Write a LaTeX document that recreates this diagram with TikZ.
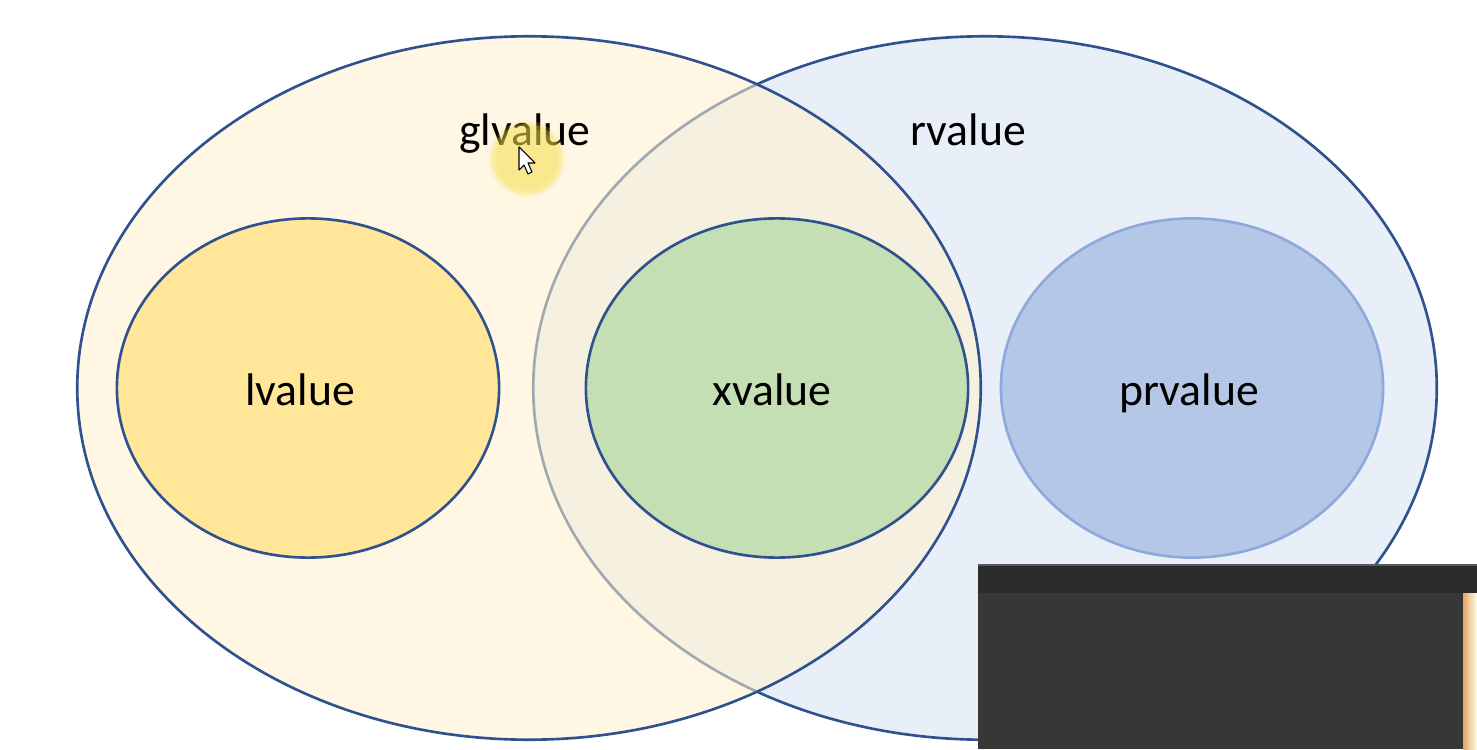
\documentclass[tikz,border=0pt]{standalone}
\usepackage{fontspec}
\setmainfont{Carlito}
\usetikzlibrary{shapes.geometric}
\definecolor{outl}{HTML}{2F528F}
\definecolor{rvfill}{HTML}{E9EFF9}
\definecolor{glfill}{HTML}{FFF2CC}
\definecolor{lvfill}{HTML}{FFE699}
\definecolor{xvfill}{HTML}{C5DFB4}
\definecolor{prfill}{HTML}{B4C7E7}
\definecolor{prline}{HTML}{8EA9DB}
\definecolor{darkbar}{HTML}{2B2B2B}
\definecolor{darkbody}{HTML}{373737}
\definecolor{hilite}{HTML}{F4E04A}
\tikzset{
  ell/.style={ellipse, draw=outl, line width=0.75pt, inner sep=0pt},
  bigell/.style={ell, minimum width=9.03cm, minimum height=7.03cm},
  smallell/.style={ell, minimum width=3.82cm, minimum height=3.39cm},
  lbl/.style={font=\fontsize{13pt}{15pt}\selectfont, text=black, anchor=base, inner sep=0pt}
}
\begin{document}
\begin{tikzpicture}[x=0.01cm, y=-0.01cm]
\useasboundingbox (0,0) rectangle (1477,749);
\fill[white] (0,0) rectangle (1477,749);
% outer sets
\node[bigell, fill=rvfill] (rv) at (985,388) {};
\node[bigell, fill=glfill, fill opacity=0.55, draw opacity=1] (gl) at (529,388) {};
% inner sets
\node[smallell, fill=lvfill] (lv) at (308,388) {};
\node[smallell, fill=xvfill] (xv) at (777,388) {};
\node[smallell, fill=prfill, draw=prline] (pr) at (1192,388) {};
% labels
\node[lbl] (gltext) at (525,146) {glvalue};
\node[lbl] (rvtext) at (968,146) {rvalue};
\node[lbl] (lvtext) at (300,405) {lvalue};
\node[lbl] (xvtext) at (772,405) {xvalue};
\node[lbl] (prtext) at (1189,405) {prvalue};
% cursor highlight (soft edge)
\fill[hilite, opacity=0.2] (527,159) circle[radius=0.38cm];
\fill[hilite, opacity=0.3] (527,159) circle[radius=0.35cm];
\fill[hilite, opacity=0.2] (527,159) circle[radius=0.31cm];
\draw[black, line width=0.3pt, fill=white, line join=round]
  (519,147) -- ++(0,23) -- ++(5,-5) -- ++(4,9) -- ++(4,-2) -- ++(-4,-9) -- ++(7,0) -- cycle;
% dark overlay box
\fill[darkbody] (978,565) rectangle (1477,749);
\fill[darkbar] (978,565) rectangle (1477,593);
\draw[gray!70!black, line width=0.4pt] (978,565) -- (1477,565);
\shade[left color=brown!60!orange!70!white, right color=white!92!yellow] (1463,593) rectangle (1477,749);
\end{tikzpicture}
\end{document}
